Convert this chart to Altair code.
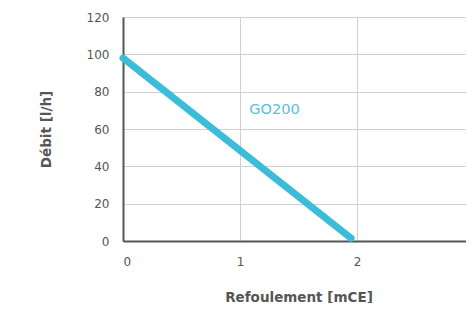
import altair as alt
import pandas as pd

refoulement = [0.0, 1.95]
debit = [98, 1.5]
label_x = [1.08]
label_y = [70]
label_text = ["GO200"]
x_ticks = [0, 1, 2, 3]
y_ticks = [0, 20, 40, 60, 80, 100, 120]

line_df = pd.DataFrame({"x": refoulement, "y": debit})
lab_df = pd.DataFrame({"x": label_x, "y": label_y, "t": label_text})

FONT = "DejaVu Sans"
GREY = "#555555"
BLUE = "#3BBCD8"

xs = alt.Scale(domain=[0, 3], nice=False)
ys = alt.Scale(domain=[0, 120], nice=False)

x_axis = alt.Axis(
    title="Refoulement [mCE]", values=x_ticks, format="d",
    titleFont=FONT, titleFontSize=13.5, titleFontWeight="bold", titleColor=GREY,
    titlePadding=23, labelFont=FONT, labelFontSize=12, labelColor=GREY,
    labelPadding=15, ticks=False, domainColor=GREY, domainWidth=2,
    labelOverlap=False, gridColor="#cfcfd4", gridWidth=1)
y_axis = alt.Axis(
    title="Débit [l/h]", values=y_ticks,
    titleFont=FONT, titleFontSize=13.5, titleFontWeight="bold", titleColor=GREY,
    titlePadding=33, labelFont=FONT, labelFontSize=12, labelColor=GREY,
    labelPadding=14, ticks=False, domainColor=GREY, domainWidth=2,
    labelOverlap=False, gridColor="#cfcfd4", gridWidth=1)

line = alt.Chart(line_df).mark_line(color=BLUE, strokeWidth=7, strokeCap="round").encode(
    x=alt.X("x:Q", scale=xs, axis=x_axis),
    y=alt.Y("y:Q", scale=ys, axis=y_axis),
)

text = alt.Chart(lab_df).mark_text(color="#55C3DD", font=FONT, fontSize=14.5, align="left", baseline="middle").encode(
    x=alt.X("x:Q", scale=xs, axis=x_axis), y=alt.Y("y:Q", scale=ys, axis=y_axis), text="t:N"
)

chart = (line + text).properties(
    width=351, height=224,
    autosize=alt.AutoSizeParams(type="none"),
    padding={"left": 115, "top": 9, "right": -8, "bottom": 62},
).configure_view(strokeWidth=0).configure(background="white")

chart.save("out.html", embed_options={"renderer": "svg", "actions": False})
